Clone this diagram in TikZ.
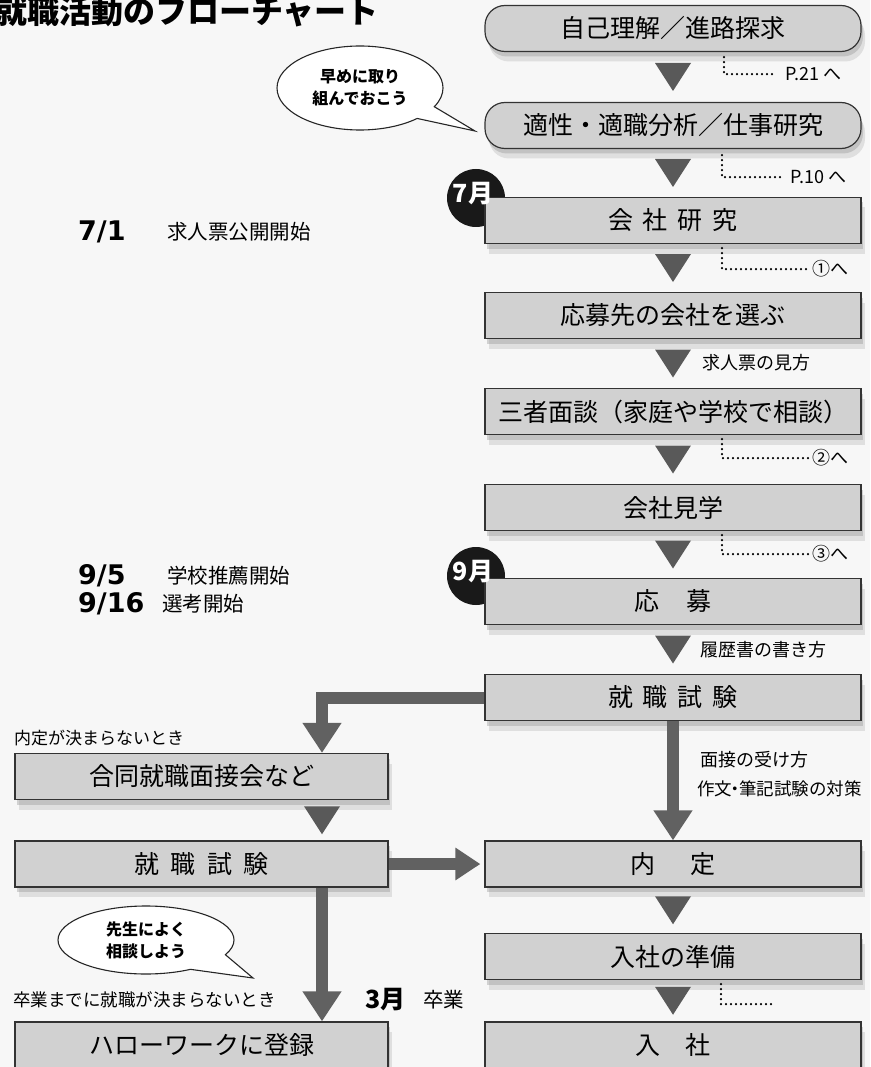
\documentclass[tikz,border=0pt]{standalone}
\usepackage{fontspec}
\setmainfont{Noto Sans CJK JP}
\newfontfamily\datefont{DejaVu Sans}
\usetikzlibrary{arrows.meta,shadows,calc,shapes.callouts}
\newcommand{\wsp}[1]{\hspace{#1em}}
\begin{document}
\begin{tikzpicture}[x=1pt,y=-1pt,
  box/.style={draw=black!80, line width=1.2pt, fill=black!18, minimum height=46pt, inner sep=0pt,
    font=\fontsize{25}{30}\selectfont,
    drop shadow={shadow xshift=4pt, shadow yshift=-10pt, fill=black!40, opacity=.25},
    drop shadow={shadow xshift=2pt, shadow yshift=-5pt, fill=black!45, opacity=.35}},
  rbox/.style={box, rounded corners=20pt},
  rcol/.style={minimum width=376pt},
  lcol/.style={minimum width=373pt},
  fat/.style={draw=black!62, line width=12pt, -{Triangle[width=37pt,length=30pt]}},
  fath/.style={draw=black!62, line width=12pt, -{Triangle[width=31pt,length=25pt]}, shorten >=4pt},
  dots/.style={line width=2.4pt, dash pattern=on 0pt off 5pt, line cap=round},
  small/.style={font=\fontsize{18}{22}\selectfont, inner sep=0pt, anchor=west},
  lab/.style={font=\fontsize{20.5}{24}\selectfont, inner sep=0pt, anchor=west},
  date/.style={font=\datefont\bfseries\fontsize{27}{30}\selectfont, inner sep=0pt, anchor=west},
  badge/.style={circle, fill=black!90, minimum size=58pt, inner sep=0pt},
  badgetext/.style={text=white, font=\bfseries\fontsize{25}{28}\selectfont, inner sep=0pt},
  bubble/.style={ellipse callout, draw=black!85, line width=1.1pt, fill=white, inner sep=0pt,
    align=center, font=\bfseries\fontsize{16}{22}\selectfont},
  downtri/.pic={\fill[black!65] (-18,-14) -- (18,-14) -- (0,14) -- cycle;}
]
\useasboundingbox (0,0) rectangle (870,1067);
\clip (0,0) rectangle (870,1067);
\fill[black!3] (0,0) rectangle (870,1067);

% title
\node[font=\bfseries\fontsize{32}{32}\selectfont, anchor=west, inner sep=0pt] (title) at (-5,12) {就職活動のフローチャート};

% month badges (behind boxes)
\node[badge] (c7) at (476,198) {};
\node[badge] (c9) at (476,576) {};

% right column
\node[rbox,rcol] (b1) at (673,28.5) {自己理解／進路探求};
\node[rbox,rcol] (b2) at (673,125.5) {適性・適職分析／仕事研究};
\node[box,rcol] (b3) at (673,220.5) {会\wsp{0.4}社\wsp{0.4}研\wsp{0.4}究};
\node[box,rcol] (b4) at (673,315.5) {応募先の会社を選ぶ};
\node[box,rcol] (b5) at (673,411.5) {三者面談（家庭や学校で相談）};
\node[box,rcol] (b6) at (673,507.5) {会社見学};
\node[box,rcol] (b7) at (673,601.5) {応\wsp{1.1}募};
\node[box,rcol] (b8) at (673,697.5) {就\wsp{0.4}職\wsp{0.4}試\wsp{0.4}験};
\node[box,rcol] (b11) at (673,864) {内\wsp{1.4}定};
\node[box,rcol] (b12) at (673,956.5) {入社の準備};
\node[box,rcol] (b13) at (673,1045) {入\wsp{1}社};

% left column
\node[box,lcol] (b9) at (201.5,776.5) {合同就職面接会など};
\node[box,lcol] (b10) at (201.5,864) {就\wsp{0.45}職\wsp{0.45}試\wsp{0.45}験};
\node[box,lcol] (b14) at (201.5,1045) {ハローワークに登録};

% badge texts
\node[badgetext] (m7) at (473,194) {7月};
\node[badgetext] (m9) at (473,572) {9月};

% triangles between boxes
\path (b1.south) -- (b2.north) coordinate[midway] (t1);
\path (b2.south) -- (b3.north) coordinate[midway] (t2);
\path (b3.south) -- (b4.north) coordinate[midway] (t3);
\path (b4.south) -- (b5.north) coordinate[midway] (t4);
\path (b5.south) -- (b6.north) coordinate[midway] (t5);
\path (b6.south) -- (b7.north) coordinate[midway] (t6);
\path (b7.south) -- (b8.north) coordinate[midway] (t7);
\path (b11.south) -- (b12.north) coordinate[midway] (t11);
\path (b12.south) -- (b13.north) coordinate[midway] (t12);
\path ([xshift=120.5pt]b9.south) -- ([xshift=120.5pt]b10.north) coordinate[midway] (t9);
\foreach \t in {t1,t2,t3,t4,t5,t6,t7,t11,t12,t9} {\pic at (\t) {downtri};}

% thick connectors
\draw[fat] (b8.west) -| ([xshift=120.5pt]b9.north);
\draw[fat] (b8.south) -- (b11.north);
\draw[fat] ([xshift=120.5pt]b10.south) -- ([xshift=120.5pt]b14.north);
\draw[fath] (b10.east) -- (b11.west);

% dotted references
\draw[dots] ($(b1.south)+(51,5)$) -- ++(0,17) -- ++(52,0) node[small, anchor=west, xshift=8pt] (r1) {P.21 へ};
\draw[dots] ($(b2.south)+(49,6)$) -- ++(0,22) -- ++(60,0) node[small, anchor=west, xshift=7pt] (r2) {P.10 へ};
\draw[dots] ($(b3.south)+(49,4)$) -- ++(0,21) -- ++(88,0) node[small, anchor=west, xshift=1pt] (r3) {①へ};
\draw[dots] ($(b5.south)+(49,4)$) -- ++(0,19) -- ++(88,0) node[small, anchor=west, xshift=1pt] (r5) {②へ};
\draw[dots] ($(b6.south)+(49,4)$) -- ++(0,19) -- ++(88,0) node[small, anchor=west, xshift=1pt] (r6) {③へ};
\draw[dots] ($(b12.south)+(48,4)$) -- ++(0,20) -- ++(52,0) coordinate (r12);

% side labels
\node[small] (l4) at (702,363) {求人票の見方};
\node[small] (l7) at (700,650) {履歴書の書き方};
\node[small] (l8a) at (700,760) {面接の受け方};
\node[small, font=\fontsize{17.5}{22}\selectfont] (l8b) at (697,789) {作文\kern-.3em・\kern-.3em筆記試験の対策};
\node[small, font=\fontsize{17}{20}\selectfont] (l9) at (14,738) {内定が決まらないとき};
\node[small, font=\fontsize{17.5}{20}\selectfont] (l14) at (13,1000) {卒業までに就職が決まらないとき};

% dates
\node[date] (d71) at (78,232) {7/1};
\node[lab] (d71t) at (167,232) {求人票公開開始};
\node[date] (d95) at (78,576) {9/5};
\node[lab] (d95t) at (167,576) {学校推薦開始};
\node[date] (d916) at (78,604) {9/16};
\node[lab] (d916t) at (162,604) {選考開始};
\node[date, font=\bfseries\fontsize{25}{28}\selectfont] (d3) at (365,1000) {3月};
\node[lab] (d3t) at (423,1000) {卒業};

% speech bubbles
\node[bubble, minimum width=166pt, minimum height=84pt, callout pointer arc=20,
  callout absolute pointer={(475,131)}] (bub1) at (360,88) {早めに取り\\組んでおこう};
\node[bubble, minimum width=176pt, minimum height=68pt, callout pointer arc=34,
  callout absolute pointer={(253,978)}] (bub2) at (146,940) {先生によく\\相談しよう};
\end{tikzpicture}
\end{document}
